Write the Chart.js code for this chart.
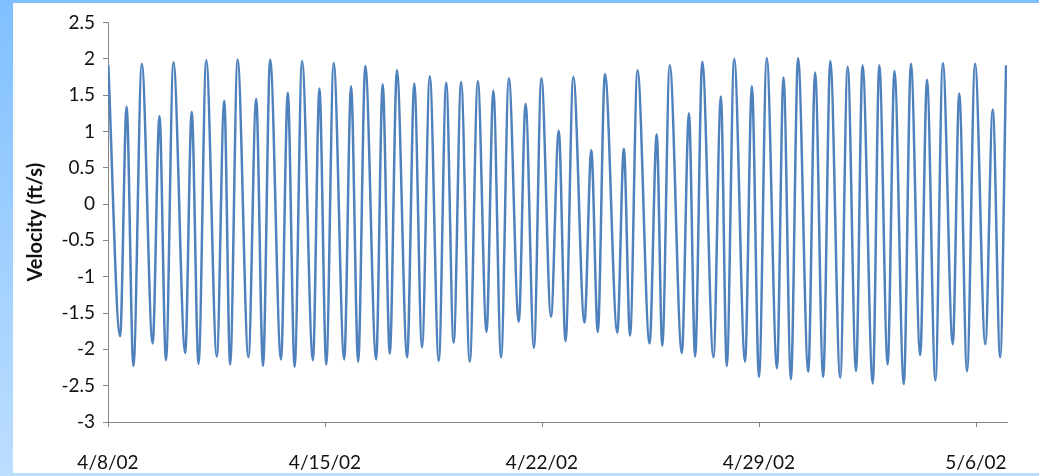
<!DOCTYPE html>
<html>

<head>
    <title>Velocity</title>
    <script src="https://cdn.jsdelivr.net/npm/chart.js"></script>
    <style>
        body {
            margin: 0;
            width: 1039px;
            height: 476px;
            overflow: hidden;
            background: linear-gradient(to bottom, #80c0ff, #bcdeff);
        }

        .chart-container {
            position: absolute;
            left: 13px;
            top: 3px;
            width: 1026px;
            height: 470px;
            background: #ffffff;
        }
    </style>
</head>

<body>
    <div class="chart-container">
        <canvas id="velocityChart" width="1026" height="470"></canvas>
    </div>

    <script>
        // time of each turn of the tide, in days after 4/8/02
        const days = [0.01, 0.39, 0.60, 0.82, 1.09, 1.44, 1.66, 1.87, 2.11, 2.49,
            2.70, 2.92, 3.17, 3.51, 3.75, 3.94, 4.18, 4.53, 4.78, 5.00,
            5.23, 5.58, 5.80, 6.02, 6.26, 6.61, 6.82, 7.04, 7.28, 7.62,
            7.84, 8.07, 8.30, 8.65, 8.86, 9.09, 9.32, 9.65, 9.88, 10.13,
            10.38, 10.67, 10.91, 11.15, 11.39, 11.67, 11.93, 12.21, 12.43, 12.68,
            12.93, 13.25, 13.47, 13.74, 13.98, 14.29, 14.54, 14.76, 15.01, 15.37,
            15.59, 15.80, 16.03, 16.43, 16.64, 16.84, 17.08, 17.47, 17.70, 17.88,
            18.12, 18.51, 18.74, 18.94, 19.17, 19.53, 19.77, 19.96, 20.20, 20.55,
            20.77, 21.00, 21.25, 21.58, 21.79, 22.03, 22.26, 22.59, 22.81, 23.07,
            23.30, 23.62, 23.86, 24.13, 24.34, 24.67, 24.88, 25.15, 25.37, 25.67,
            25.90, 26.20, 26.42, 26.69, 26.93, 27.25, 27.46, 27.71, 27.97, 28.30,
            28.54, 28.78, 28.97];

        // velocity at those times (ft/s)
        const velocity = [1.91, -1.82, 1.34, -2.23, 1.93, -1.92, 1.21, -2.15, 1.95, -2.05,
            1.27, -2.20, 1.98, -2.10, 1.42, -2.21, 1.99, -2.11, 1.45, -2.23,
            1.99, -2.14, 1.53, -2.24, 1.97, -2.15, 1.59, -2.21, 1.94, -2.14,
            1.62, -2.17, 1.90, -2.14, 1.65, -2.06, 1.84, -2.11, 1.66, -1.97,
            1.76, -2.16, 1.67, -1.91, 1.68, -2.17, 1.69, -1.76, 1.56, -2.11,
            1.73, -1.62, 1.38, -1.98, 1.73, -1.55, 1.01, -1.89, 1.75, -1.63,
            0.74, -1.76, 1.79, -1.77, 0.76, -1.81, 1.84, -1.92, 0.96, -1.95,
            1.91, -2.05, 1.25, -2.10, 1.96, -2.11, 1.48, -2.23, 2.00, -2.17,
            1.62, -2.38, 2.01, -2.26, 1.74, -2.41, 2.01, -2.31, 1.81, -2.38,
            1.97, -2.39, 1.89, -2.30, 1.91, -2.47, 1.91, -2.21, 1.83, -2.48,
            1.93, -2.08, 1.71, -2.43, 1.94, -1.93, 1.52, -2.30, 1.93, -1.93,
            1.30, -2.11, 1.91];

        // date ticks on the x axis
        const tickDays = [0, 7, 14, 21, 28];
        const tickLabels = ['4/8/02', '4/15/02', '4/22/02', '4/29/02', '5/6/02'];

        const points = days.map((d, i) => ({ x: d, y: velocity[i] }));

        const axisGray = '#868686';
        const textColor = '#111111';

        const ctx = document.getElementById('velocityChart').getContext('2d');
        new Chart(ctx, {
            type: 'line',
            data: {
                datasets: [{
                    data: points,
                    borderColor: '#4f81bd',
                    borderWidth: 2.5,
                    pointRadius: 0,
                    fill: false,
                    cubicInterpolationMode: 'monotone'
                }]
            },
            options: {
                responsive: false,
                animation: false,
                layout: {
                    padding: { left: 0, right: 32, top: 16, bottom: 0 }
                },
                plugins: {
                    legend: { display: false },
                    tooltip: { enabled: false }
                },
                scales: {
                    x: {
                        type: 'linear',
                        min: 0,
                        max: 29,
                        afterBuildTicks: axis => {
                            axis.ticks = tickDays.map(v => ({ value: v }));
                        },
                        afterFit: scale => {
                            scale.height = 51;
                        },
                        border: { color: axisGray, width: 1 },
                        grid: {
                            drawOnChartArea: false,
                            drawTicks: true,
                            tickLength: 5,
                            color: axisGray
                        },
                        ticks: {
                            padding: 24,
                            maxRotation: 0,
                            autoSkip: false,
                            color: textColor,
                            font: { family: 'Lato', size: 19 },
                            callback: value => tickLabels[tickDays.indexOf(value)]
                        }
                    },
                    y: {
                        min: -3,
                        max: 2.5,
                        afterFit: scale => {
                            scale.width = 95;
                        },
                        border: { color: axisGray, width: 1 },
                        grid: {
                            drawOnChartArea: false,
                            drawTicks: true,
                            tickLength: 5,
                            color: axisGray
                        },
                        ticks: {
                            stepSize: 0.5,
                            padding: 8,
                            color: textColor,
                            font: { family: 'Lato', size: 19 },
                            callback: value => String(value)
                        },
                        title: {
                            display: true,
                            text: 'Velocity (ft/s)',
                            color: textColor,
                            padding: { top: 11, bottom: 0 },
                            font: { family: 'Lato', size: 20, weight: 'bold' }
                        }
                    }
                }
            }
        });
    </script>
</body>

</html>
